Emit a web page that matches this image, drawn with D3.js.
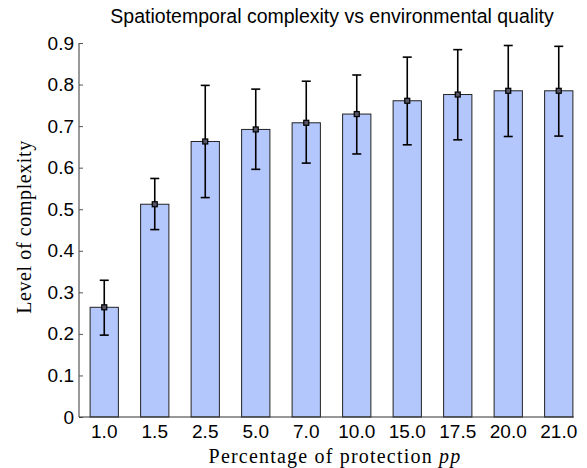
<!DOCTYPE html>
<html>
<head>
<meta charset="utf-8">
<script src="https://cdn.jsdelivr.net/npm/d3@7"></script>
<style>
  body { margin: 0; background: #fff; }
  svg { display: block; }
</style>
</head>
<body>
<script>
const width = 587;
const height = 468;

const categories = ["1.0", "1.5", "2.5", "5.0", "7.0", "10.0", "15.0", "17.5", "20.0", "21.0"];
const means = [0.264, 0.512, 0.663, 0.692, 0.708, 0.729, 0.761, 0.776, 0.785, 0.785];
const errLow = [0.197, 0.451, 0.528, 0.596, 0.611, 0.633, 0.655, 0.667, 0.675, 0.676];
const errHigh = [0.329, 0.574, 0.798, 0.789, 0.808, 0.823, 0.866, 0.884, 0.894, 0.892];
const yTicks = [0, 0.1, 0.2, 0.3, 0.4, 0.5, 0.6, 0.7, 0.8, 0.9];

const data = categories.map((c, i) => ({
  cat: c, mean: means[i], lo: errLow[i], hi: errHigh[i]
}));

const plotLeft = 79, plotRight = 584, plotTop = 43, plotBottom = 417;
const sans = "Liberation Sans, Arial, Helvetica, sans-serif";
const serif = "Liberation Serif, Times New Roman, serif";

const x = d3.scaleBand().domain(categories).range([plotLeft, plotRight]).paddingInner(0.44).paddingOuter(0.22);
const y = d3.scaleLinear().domain([0, 0.9]).range([plotBottom, plotTop]);

const svg = d3.select("body").append("svg")
  .attr("width", width)
  .attr("height", height);

// bars
svg.append("g")
  .selectAll("rect")
  .data(data)
  .join("rect")
  .attr("x", (d) => x(d.cat))
  .attr("y", (d) => y(d.mean))
  .attr("width", x.bandwidth())
  .attr("height", (d) => y(0) - y(d.mean))
  .attr("fill", "#b3c7fc")
  .attr("stroke", "#222")
  .attr("stroke-width", 1);

// axes
const yAxis = d3.axisLeft(y).tickValues(yTicks).tickSize(-4).tickPadding(5)
  .tickFormat((d) => (d === 0 ? "0" : d3.format(".1f")(d)));
const yg = svg.append("g").attr("transform", `translate(${plotLeft},0)`).call(yAxis);
yg.select(".domain").remove();
yg.selectAll(".tick line").attr("stroke", "#555");
yg.selectAll(".tick text")
  .attr("font-family", sans)
  .attr("font-size", 19)
  .attr("fill", "#000");

const lastRight = x(categories[categories.length - 1]) + x.bandwidth() + 1;
svg.append("line")
  .attr("x1", plotLeft).attr("x2", plotLeft)
  .attr("y1", y(0.9)).attr("y2", y(0))
  .attr("stroke", "#555").attr("stroke-width", 1.2);
svg.append("line")
  .attr("x1", plotLeft).attr("x2", lastRight)
  .attr("y1", y(0)).attr("y2", y(0))
  .attr("stroke", "#333").attr("stroke-width", 1.2);

const xAxis = d3.axisBottom(x).tickSize(0).tickPadding(8);
const xg = svg.append("g").attr("transform", `translate(0,${plotBottom})`).call(xAxis);
xg.select(".domain").remove();
xg.selectAll(".tick text")
  .attr("font-family", sans)
  .attr("font-size", 19)
  .attr("fill", "#000");

// error bars
const cx = (d) => x(d.cat) + x.bandwidth() / 2;
const err = svg.append("g").attr("stroke", "#000").attr("stroke-width", 1.6);
err.selectAll(".v").data(data).join("line")
  .attr("x1", cx).attr("x2", cx)
  .attr("y1", (d) => y(d.lo)).attr("y2", (d) => y(d.hi));
err.selectAll(".capHi").data(data).join("line")
  .attr("x1", (d) => cx(d) - 4.5).attr("x2", (d) => cx(d) + 4.5)
  .attr("y1", (d) => y(d.hi)).attr("y2", (d) => y(d.hi));
err.selectAll(".capLo").data(data).join("line")
  .attr("x1", (d) => cx(d) - 4.5).attr("x2", (d) => cx(d) + 4.5)
  .attr("y1", (d) => y(d.lo)).attr("y2", (d) => y(d.lo));

// mean markers
svg.append("g").selectAll("rect").data(data).join("rect")
  .attr("x", (d) => cx(d) - 2.5)
  .attr("y", (d) => y(d.mean) - 2.5)
  .attr("width", 5).attr("height", 5)
  .attr("fill", "#556")
  .attr("stroke", "#000").attr("stroke-width", 1.2);

// title
svg.append("text")
  .attr("x", 332).attr("y", 23)
  .attr("text-anchor", "middle")
  .attr("font-family", sans)
  .attr("font-size", 19.5)
  .text("Spatiotemporal complexity vs environmental quality");

// x label
const xl = svg.append("text")
  .attr("x", 335).attr("y", 463)
  .attr("text-anchor", "middle")
  .attr("font-family", serif)
  .attr("font-size", 20)
  .attr("letter-spacing", 1.2);
xl.append("tspan").text("Percentage of protection ");
xl.append("tspan").attr("font-style", "italic").text("pp");

// y label
svg.append("text")
  .attr("transform", `translate(31,227) rotate(-90)`)
  .attr("text-anchor", "middle")
  .attr("font-family", serif)
  .attr("font-size", 20)
  .attr("letter-spacing", 0.6)
  .text("Level of complexity");
</script>
</body>
</html>
